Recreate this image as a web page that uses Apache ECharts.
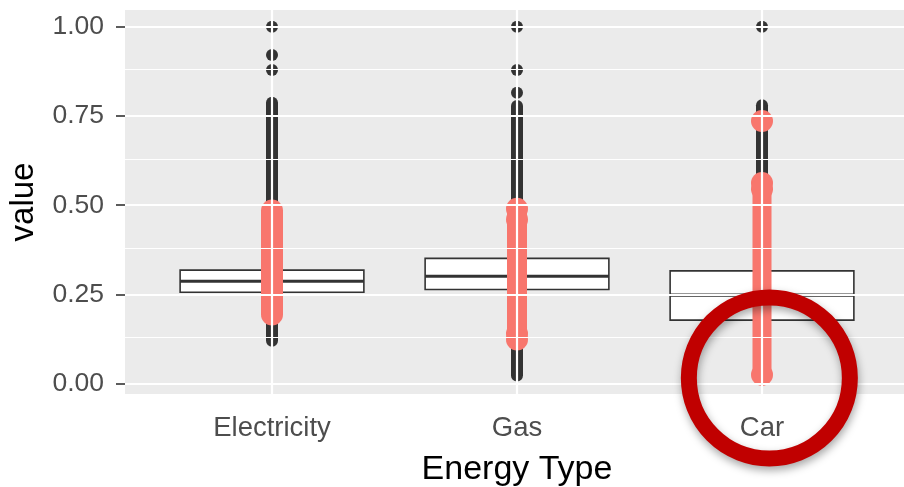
<!DOCTYPE html>
<html><head><meta charset="utf-8">
<script src="https://cdn.jsdelivr.net/npm/echarts@6/dist/echarts.min.js"></script>
<style>html,body{margin:0;padding:0;background:#fff}#c{width:904px;height:487px}</style>
</head><body><div id="c"></div>
<script>
// ---- data ----
const categories = ['Electricity', 'Gas', 'Car'];
const yTicks = [0, 0.25, 0.5, 0.75, 1.0];
const yMinorTicks = [0.125, 0.375, 0.625, 0.875];
const xTicks = [1, 2, 3];
// box stats per category: [lowerWhisker, q1, median, q3, upperWhisker]
const boxElectricity = [0.163, 0.256, 0.287, 0.318, 0.411];
const boxGas = [0.133, 0.264, 0.301, 0.351, 0.481];
const boxCar = [0.005, 0.178, 0.248, 0.316, 0.524];
// dense black point clusters [low, high] and isolated black points
const blackBands = [[0.12, 0.787], [0.023, 0.778], [0.02, 0.78]];
const blackSingles = [[1.0, 0.921, 0.879], [1.0, 0.879, 0.815], [1.0]];
// dense pink point clusters [low, high] and isolated pink points
const pinkBands = [[0.194, 0.485], [0.124, 0.49], [0.021, 0.545]];
const pinkSingles = [[], [0.49, 0.46, 0.14, 0.124], [0.736, 0.562, 0.545, 0.025]];
// highlight ring anchor (category position, value)
const annotation = [3.03, 0.016];

// ---- styles ----
const FONT = 'Liberation Sans, Arial, sans-serif';
const BLACK = '#333333';
const PINK = '#F8766D';
const pinkWidths = [22, 20, 19];
const blackWidth = 12;

const boxes = [boxElectricity, boxGas, boxCar];

const series = [];
// grid lines
series.push({
  type: 'line', data: [], silent: true, z: 1,
  markLine: {
    silent: true, symbol: ['none', 'none'], animation: false,
    label: { show: false },
    data: [
      ...yMinorTicks.map(v => ({ yAxis: v, lineStyle: { color: '#fff', width: 1.1, type: 'solid' } })),
      ...yTicks.map(v => ({ yAxis: v, lineStyle: { color: '#fff', width: 2.2, type: 'solid' } })),
      ...xTicks.map(v => ({ xAxis: v, lineStyle: { color: '#fff', width: 2.2, type: 'solid' } }))
    ]
  }
});
// boxes
series.push({
  type: 'custom', z: 2,
  data: boxes.map((b, i) => [i + 1, ...b]),
  encode: { x: 0, y: [1, 2, 3, 4, 5] },
  renderItem: function (params, api) {
    const x = api.value(0);
    const lo = api.coord([x, api.value(1)]);
    const q1 = api.coord([x, api.value(2)]);
    const med = api.coord([x, api.value(3)]);
    const q3 = api.coord([x, api.value(4)]);
    const hi = api.coord([x, api.value(5)]);
    const w = api.size([0.75, 0])[0];
    const s = { stroke: BLACK, lineWidth: 1.6 };
    return {
      type: 'group', children: [
        { type: 'line', shape: { x1: lo[0], y1: lo[1], x2: q1[0], y2: q1[1] }, style: s },
        { type: 'line', shape: { x1: q3[0], y1: q3[1], x2: hi[0], y2: hi[1] }, style: s },
        { type: 'rect', shape: { x: q1[0] - w / 2, y: q3[1], width: w, height: q1[1] - q3[1] }, style: { fill: '#fff', stroke: BLACK, lineWidth: 1.6 } },
        { type: 'line', shape: { x1: med[0] - w / 2, y1: med[1], x2: med[0] + w / 2, y2: med[1] }, style: { stroke: BLACK, lineWidth: 3.2 } }
      ]
    };
  }
});
// black clusters
blackBands.forEach((b, i) => {
  series.push({
    type: 'line', z: 3, symbol: 'none', silent: true,
    data: [[i + 1, b[0]], [i + 1, b[1]]],
    lineStyle: { color: BLACK, width: blackWidth, cap: 'round', opacity: 1 }
  });
});
series.push({
  type: 'scatter', z: 3, symbolSize: blackWidth, silent: true,
  itemStyle: { color: BLACK, opacity: 1 },
  data: blackSingles.flatMap((arr, i) => arr.map(v => [i + 1, v]))
});
// pink clusters
pinkBands.forEach((b, i) => {
  series.push({
    type: 'line', z: 4, symbol: 'none', silent: true,
    data: [[i + 1, b[0]], [i + 1, b[1]]],
    lineStyle: { color: PINK, width: pinkWidths[i], cap: 'round', opacity: 1 }
  });
});
series.push({
  type: 'scatter', z: 4, symbolSize: 22, silent: true,
  itemStyle: { color: PINK, opacity: 1 },
  data: pinkSingles.flatMap((arr, i) => arr.map(v => [i + 1, v]))
});

const chart = echarts.init(document.getElementById('c'), null, { renderer: 'canvas' });
chart.setOption({
  animation: false,
  backgroundColor: '#fff',
  grid: { left: 125, top: 10, width: 784, height: 384, show: true, backgroundColor: '#EBEBEB', borderWidth: 0, containLabel: false, outerBoundsMode: 'none' },
  xAxis: {
    type: 'value', min: 0.4, max: 3.6,
    axisLine: { show: false },
    axisTick: { show: true, length: 9, customValues: xTicks, lineStyle: { color: BLACK, width: 1.6 } },
    axisLabel: { customValues: xTicks, formatter: v => categories[Math.round(v) - 1], color: '#4D4D4D', fontSize: 27.5, fontFamily: FONT, margin: 20 },
    splitLine: { show: false },
    name: 'Energy Type', nameLocation: 'middle', nameGap: 59,
    nameTextStyle: { fontSize: 34, color: '#000', fontFamily: FONT }
  },
  yAxis: {
    type: 'value', min: -0.029, max: 1.047,
    axisLine: { show: false },
    axisTick: { show: true, length: 9, customValues: yTicks, lineStyle: { color: BLACK, width: 1.6 } },
    axisLabel: { customValues: yTicks, formatter: v => v.toFixed(2), color: '#4D4D4D', fontSize: 26.5, fontFamily: FONT, margin: 21 },
    splitLine: { show: false },
    name: 'value', nameLocation: 'middle', nameGap: 85, nameRotate: 90,
    nameTextStyle: { fontSize: 33, color: '#000', fontFamily: FONT }
  },
  series: series
});
const c = chart.convertToPixel({ gridIndex: 0 }, annotation);
chart.setOption({
  graphic: [{
    type: 'circle', z: 100, silent: true,
    shape: { cx: c[0], cy: c[1], r: 80.5 },
    style: { fill: 'none', stroke: '#C00000', lineWidth: 16, shadowBlur: 8, shadowOffsetX: 1, shadowOffsetY: 4, shadowColor: 'rgba(0,0,0,0.35)' }
  }]
});
</script>
</body></html>
